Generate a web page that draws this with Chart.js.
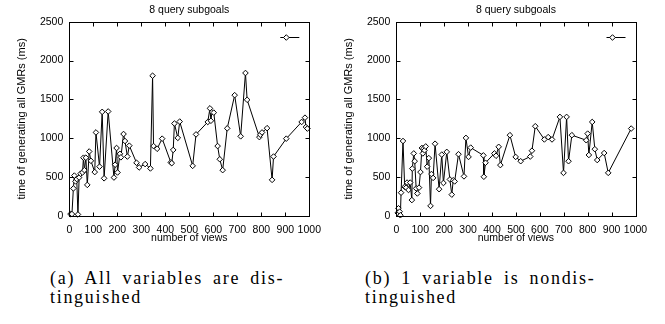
<!DOCTYPE html>
<html>
<head>
<meta charset="utf-8">
<script src="https://cdn.jsdelivr.net/npm/chart.js@4.4.0/dist/chart.umd.min.js"></script>
<style>
  html, body { margin: 0; padding: 0; background: #fff; }
  #page { position: relative; width: 665px; height: 324px; overflow: hidden; }
  canvas { position: absolute; top: 0; }
  #cv-a { left: 0; }
  #cv-b { left: 327px; }
  .caption {
    position: absolute;
    font-family: "Liberation Serif", serif;
    font-size: 18px;
    line-height: 19px;
    letter-spacing: 1.7px;
    word-spacing: 4px;
    color: #000;
    white-space: nowrap;
  }
  #cap-a { left: 50px; top: 269px; }
  #cap-b { left: 365px; top: 269px; }
</style>
</head>
<body>
<div id="page">
  <canvas id="cv-a" width="330" height="245"></canvas>
  <canvas id="cv-b" width="330" height="245"></canvas>
  <div class="caption" id="cap-a">(a) All variables are dis-<br>tinguished</div>
  <div class="caption" id="cap-b">(b) 1 variable is nondis-<br>tinguished</div>
</div>
<script>
// ---- data ----
const chartTitle = '8 query subgoals';
const xTitle = 'number of views';
const yTitle = 'time of generating all GMRs (ms)';
const xTicks = [0, 100, 200, 300, 400, 500, 600, 700, 800, 900, 1000];
const yTicks = [0, 500, 1000, 1500, 2000, 2500];

// (a) all variables are distinguished
const viewsA = [5, 11, 17, 21, 26, 31, 36, 41, 47, 55, 59, 63, 69, 75, 83, 90, 106, 111, 126, 137,
  145, 162, 186, 191, 197, 201, 211, 215, 226, 232, 242, 250, 280, 291, 316, 338, 347, 351, 366, 387,
  423, 427, 433, 438, 452, 460, 514, 528, 577, 586, 590, 594, 602, 618, 627, 639, 658, 689, 714, 734,
  741, 792, 796, 803, 824, 845, 851, 904, 968, 982, 986, 992];
const timeA = [25, 25, 355, 520, 445, 475, 20, 495, 545, 560, 750, 590, 750, 400, 830, 710, 565, 1075, 635, 1340,
  485, 1345, 495, 660, 875, 560, 800, 755, 1055, 965, 765, 905, 685, 625, 668, 612, 1805, 900, 865, 995,
  690, 680, 850, 1190, 1005, 1215, 645, 1050, 1210, 1385, 1225, 1335, 1330, 900, 730, 590, 1128, 1555, 1025, 1840,
  1495, 1015, 1045, 1075, 1130, 465, 765, 995, 1210, 1265, 1145, 1125];

// (b) 1 variable is nondistinguished
const viewsB = [6, 9, 14, 17, 20, 28, 35, 41, 45, 51, 58, 65, 67, 73, 77, 83, 88, 95, 101, 107,
  111, 115, 118, 123, 129, 136, 143, 147, 154, 162, 179, 190, 197, 211, 224, 232, 238, 244, 260, 283,
  291, 302, 311, 364, 366, 373, 410, 417, 428, 435, 475, 499, 520, 560, 567, 581, 619, 635, 651, 684,
  699, 712, 720, 734, 794, 800, 805, 819, 830, 840, 869, 886, 982];
const timeB = [40, 99, 56, 10, 300, 965, 375, 365, 430, 335, 430, 205, 610, 805, 705, 355, 290, 365, 565, 875,
  805, 870, 845, 895, 635, 745, 130, 540, 490, 930, 345, 790, 425, 825, 470, 275, 460, 445, 795, 510,
  1005, 760, 880, 780, 505, 685, 805, 775, 890, 655, 1040, 760, 705, 765, 840, 1155, 985, 1015, 985, 1275,
  555, 1275, 705, 1040, 975, 1060, 785, 1210, 860, 720, 810, 555, 1125];

const FONT = { family: '"Liberation Sans", Arial, sans-serif', size: 10.5, weight: 'normal' };
const YFONT = { family: '"Liberation Sans", Arial, sans-serif', size: 11, weight: 'normal' };

// gnuplot style frame: box + inward ticks on all sides + key sample
const frameTicks = {
  id: 'frameTicks',
  afterDraw(chart) {
    const { ctx, chartArea: a, scales: { x, y } } = chart;
    const L = Math.round(a.left) + 0.5, R = Math.round(a.right) + 0.5;
    const T = Math.round(a.top) + 0.5, B = Math.round(a.bottom) + 0.5;
    ctx.save();
    ctx.strokeStyle = '#000';
    ctx.lineWidth = 1;
    ctx.beginPath();
    x.ticks.forEach((t) => {
      const px = Math.round(x.getPixelForValue(t.value)) + 0.5;
      ctx.moveTo(px, B); ctx.lineTo(px, B - 4);
      ctx.moveTo(px, T); ctx.lineTo(px, T + 4);
    });
    y.ticks.forEach((t) => {
      const py = Math.round(y.getPixelForValue(t.value)) + 0.5;
      ctx.moveTo(L, py); ctx.lineTo(L + 4, py);
      ctx.moveTo(R, py); ctx.lineTo(R - 4, py);
    });
    ctx.stroke();
    ctx.strokeRect(L, T, R - L, B - T);

    // key sample (untitled series)
    const ky = Math.round(a.top + 15) + 0.5;
    ctx.beginPath();
    ctx.moveTo(a.right - 29, ky);
    ctx.lineTo(a.right - 10, ky);
    ctx.stroke();
    const kx = a.right - 23, r = 2.8;
    ctx.beginPath();
    ctx.moveTo(kx, ky - r); ctx.lineTo(kx + r, ky); ctx.lineTo(kx, ky + r); ctx.lineTo(kx - r, ky);
    ctx.closePath();
    ctx.fillStyle = '#fff';
    ctx.fill();
    ctx.stroke();
    ctx.restore();
  }
};

function makeChart(id, views, times, padRight) {
  const points = views.map((v, i) => ({ x: v, y: times[i] }));
  return new Chart(document.getElementById(id), {
    type: 'line',
    data: {
      datasets: [{
        data: points,
        borderColor: '#000',
        borderWidth: 1,
        tension: 0,
        fill: false,
        pointStyle: 'rectRot',
        pointRadius: 2.8,
        pointBackgroundColor: '#fff',
        pointBorderColor: '#000',
        pointBorderWidth: 1,
        clip: 6
      }]
    },
    options: {
      responsive: false,
      animation: false,
      devicePixelRatio: 1,
      layout: { padding: { left: 0, right: padRight, top: 0, bottom: 0 } },
      plugins: {
        legend: { display: false },
        tooltip: { enabled: false },
        title: {
          display: true,
          text: chartTitle,
          color: '#000',
          font: FONT,
          fullSize: false,
          padding: { top: 3.7, bottom: 5.4 }
        }
      },
      scales: {
        x: {
          type: 'linear',
          min: xTicks[0],
          max: xTicks[xTicks.length - 1],
          afterBuildTicks: (s) => { s.ticks = xTicks.map((v) => ({ value: v })); },
          afterFit: (s) => { s.height = 29; },
          grid: { display: false, drawTicks: false },
          border: { display: false },
          ticks: { color: '#000', font: FONT, padding: 7.5, maxRotation: 0, autoSkip: false,
                   callback: (v) => String(v) },
          title: { display: true, text: xTitle, color: '#000', font: FONT, padding: { top: 0, bottom: 0.7 } }
        },
        y: {
          type: 'linear',
          min: yTicks[0],
          max: yTicks[yTicks.length - 1],
          afterBuildTicks: (s) => { s.ticks = yTicks.map((v) => ({ value: v })); },
          afterFit: (s) => { s.width = 69.3; },
          grid: { display: false, drawTicks: false },
          border: { display: false },
          ticks: { color: '#000', font: FONT, padding: 6, callback: (v) => String(v) },
          title: { display: true, text: yTitle, color: '#000', font: YFONT, padding: { top: 15.4, bottom: 0 } }
        }
      }
    },
    plugins: [frameTicks]
  });
}

makeChart('cv-a', viewsA, timeA, 20.7);
makeChart('cv-b', viewsB, timeB, 21.5);
</script>
</body>
</html>
